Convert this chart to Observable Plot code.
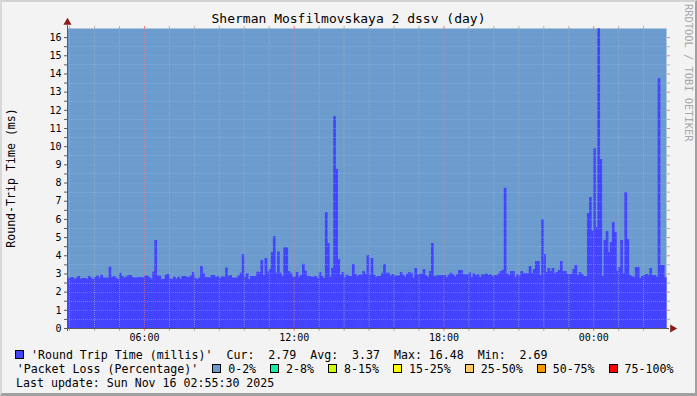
<!DOCTYPE html>
<html><head><meta charset="utf-8">
<script src="https://cdn.jsdelivr.net/npm/d3@7"></script>
<script src="https://cdn.jsdelivr.net/npm/@observablehq/plot@0.6"></script>
<style>
html,body{margin:0;padding:0;background:#f3f3f3;}
#wrap{position:relative;width:697px;height:396px;background:#f3f3f3;overflow:hidden;font-family:"DejaVu Sans Mono",monospace;color:#000;}
#border{position:absolute;left:0;top:0;width:697px;height:396px;box-sizing:border-box;border-top:2px solid #d2d2d2;border-left:2px solid #d8d8d8;border-right:2px solid #a0a0a0;border-bottom:3px solid #a0a0a0;pointer-events:none;}
#title{position:absolute;left:0;top:11px;width:697px;text-align:center;font-size:13px;line-height:15px;white-space:pre;}
#chart{position:absolute;left:0;top:0;}
#ylabel{position:absolute;left:11px;top:178px;transform:translate(-50%,-50%) rotate(-90deg);font-size:11.6px;white-space:pre;}
#wm{position:absolute;left:683px;top:4px;writing-mode:vertical-rl;font-size:10.4px;color:#a8a8a8;white-space:pre;}
#legend{position:absolute;left:0;top:348px;font-size:11.6px;line-height:14px;white-space:pre;}
.row{height:14px;}
.sq{display:inline-block;width:9px;height:9px;box-sizing:border-box;border:1px solid #000;}
</style></head>
<body>
<div id="wrap">
  <div id="chart"></div>
  <div id="title"></div>
  <div id="ylabel"></div>
  <div id="wm"></div>
  <div id="legend"></div>
  <div id="border"></div>
</div>
<script>
// ---- data (5-minute RTT samples, 02:55 Nov 15 -> 02:55 Nov 16), one row per hour ----
const rtt = [
  2.75,2.78,2.80,2.69,2.77,2.86,2.71,2.75,2.75,2.71,2.86,2.77,
  2.69,2.80,2.88,2.77,2.93,2.77,2.77,2.77,3.37,2.80,2.86,2.77,
  2.69,3.04,2.86,2.77,2.84,2.91,2.91,2.80,2.77,2.79,2.79,2.80,
  2.77,2.88,2.88,2.79,2.71,3.10,4.84,2.88,2.88,2.69,2.71,2.93,
  2.98,2.71,2.71,2.82,2.71,2.82,2.71,2.86,2.86,2.82,2.80,2.88,
  3.08,2.77,2.69,2.77,3.40,3.02,2.80,2.80,2.77,2.91,2.91,2.79,
  2.86,2.75,2.84,2.82,3.33,2.86,2.91,2.77,2.77,2.77,2.89,3.04,
  4.07,2.82,3.02,2.69,2.86,2.86,2.86,3.10,3.08,3.74,2.91,3.85,
  3.10,3.24,4.18,5.05,3.04,4.21,3.04,2.86,4.43,4.43,3.13,3.04,
  2.82,2.82,3.08,2.82,2.91,3.53,3.15,2.86,2.86,2.82,2.82,2.86,
  2.75,3.08,2.86,2.75,6.37,4.67,2.82,3.31,11.65,8.75,3.79,2.93,
  3.08,2.79,2.93,2.86,2.86,3.52,2.97,2.86,2.93,2.93,3.13,2.97,
  4.01,2.93,3.85,2.93,2.82,2.86,2.86,3.04,3.52,3.04,3.04,2.88,
  2.97,2.88,2.88,2.88,3.08,2.93,2.82,2.99,3.08,3.03,2.77,3.30,
  2.93,2.97,2.99,3.24,2.90,2.82,3.13,4.67,2.86,2.88,2.91,2.90,
  2.91,2.91,2.80,2.93,3.04,2.95,2.84,2.95,3.19,3.19,2.95,2.95,
  2.95,3.06,2.80,3.00,2.91,2.95,2.80,2.95,2.95,3.00,2.91,2.95,
  2.86,2.91,2.90,3.00,3.13,3.19,7.71,2.99,2.90,3.13,3.13,2.80,
  2.95,2.88,3.13,3.02,3.02,3.02,3.41,3.02,3.24,3.68,3.68,2.91,
  5.99,4.07,3.08,3.30,3.13,3.30,3.02,3.08,3.19,3.68,3.13,3.13,
  2.97,2.97,2.97,3.24,3.46,2.91,3.08,2.97,2.86,2.86,6.32,7.20,
  5.35,9.89,5.55,16.48,9.29,2.86,4.84,5.33,4.18,4.73,5.82,5.27,
  3.13,3.35,4.84,3.02,7.47,4.89,2.91,2.86,2.80,3.35,3.35,2.75,
  2.86,2.91,2.97,2.91,3.30,2.91,2.91,2.82,13.74,3.46,3.46,2.79
];
const startTime = Date.UTC(2025, 10, 15, 2, 55);
const stepMs = 5 * 60 * 1000;

const yMajorTicks = [1,2,3,4,5,6,7,8,9,10,11,12,13,14,15,16];
const xLabelTicks = ["06:00","12:00","18:00","00:00"];

const titleText = "Sherman Mosfilmovskaya 2 dssv (day)";
const yTitle = "Round-Trip Time (ms)";
const watermark = "RRDTOOL / TOBI OETIKER";
const rttLabel = "'Round Trip Time (millis)'";
const statNames = ["Cur:", "Avg:", "Max:", "Min:"];
const statValues = ["2.79", "3.37", "16.48", "2.69"];
const lossTitle = "'Packet Loss (Percentage)'";
const lossLabels = ["0-2%","2-8%","8-15%","15-25%","25-50%","50-75%","75-100%"];
const lossColors = ["#6c9bcd","#11f0a4","#ccff00","#ffff00","#ffcc66","#ff9900","#ff0000"];
const lastUpdate = "Last update: Sun Nov 16 02:55:30 2025";

const rttColor = "#4444ff";
const gridMinor = "#b4b4b4";
const gridMajor = "#ff7a7a";
const axisColor = "#5a5a5a";
const arrowColor = "#8b1a1a";

// ---- build ----
const data = rtt.map((v, i) => ({t1: new Date(startTime + i*stepMs), t2: new Date(startTime + (i+1)*stepMs), v}));
const endTime = startTime + rtt.length * stepMs;
const hours = d3.utcHour.range(new Date(startTime), new Date(endTime));
const fmt = d3.utcFormat("%H:%M");
const hourMajor = hours.filter(d => xLabelTicks.includes(fmt(d)));
const hourMinor = hours.filter(d => !xLabelTicks.includes(fmt(d)));
const yMinorTicks = yMajorTicks.map(d => d - 0.5);
const yAllTicks = d3.range(0, 16.01, 0.5);

const chart = Plot.plot({
  width: 697, height: 350,
  marginLeft: 67, marginRight: 31, marginTop: 28, marginBottom: 22,
  x: {type: "utc", domain: [new Date(startTime), new Date(endTime)]},
  y: {domain: [0, 16.5]},
  style: {background: "transparent", fontFamily: "'DejaVu Sans Mono', monospace", fontSize: "10px", color: "#000", overflow: "visible"},
  marks: [
    Plot.frame({fill: lossColors[0], stroke: null}),
    Plot.rect(data, {x1: "t1", x2: "t2", y1: 0, y2: "v", fill: rttColor, insetRight: -0.6}),
    Plot.ruleY(yMinorTicks, {stroke: gridMinor, strokeOpacity: 0.5, strokeDasharray: "1,1", shapeRendering: "crispEdges"}),
    Plot.ruleX(hourMinor, {stroke: gridMinor, strokeOpacity: 0.6, strokeDasharray: "1,1"}),
    Plot.ruleY(yMajorTicks, {stroke: gridMajor, strokeOpacity: 0.5, strokeDasharray: "1,1", shapeRendering: "crispEdges"}),
    Plot.ruleX(hourMajor, {stroke: gridMajor, strokeOpacity: 0.6, strokeDasharray: "1,1"}),
    // outside tick stubs
    Plot.axisX(hourMinor, {anchor: "top", tickSize: 3, tickFormat: () => "", stroke: gridMinor, label: null}),
    Plot.axisX(hourMajor, {anchor: "top", tickSize: 3, tickFormat: () => "", stroke: gridMajor, label: null}),
    Plot.axisY(yMinorTicks, {anchor: "right", tickSize: 3, tickFormat: () => "", stroke: gridMinor, label: null}),
    Plot.axisY(yMajorTicks, {anchor: "right", tickSize: 3, tickFormat: () => "", stroke: gridMajor, label: null}),
    Plot.axisX(hourMinor, {anchor: "bottom", tickSize: 3, tickFormat: () => "", stroke: gridMinor, label: null}),
    Plot.axisX(hourMajor, {anchor: "bottom", tickSize: 3, tickPadding: 2, tickFormat: fmt, stroke: gridMajor, fill: "#000", label: null}),
    Plot.axisY(yAllTicks, {anchor: "left", tickSize: 3, tickPadding: 3, tickFormat: d => Number.isInteger(d) ? String(d) : "", stroke: axisColor, fill: "#000", label: null}),
    // axis lines
    Plot.ruleX([new Date(startTime)], {stroke: axisColor, insetTop: -3, insetBottom: -3}),
    Plot.ruleY([0], {stroke: axisColor, insetLeft: -3, insetRight: -3}),
    // arrows
    Plot.dot([new Date(startTime)], {x: d => d, frameAnchor: "top", dy: -6, symbol: "triangle", r: 3, fill: arrowColor, stroke: null}),
    Plot.dot([new Date(endTime)], {x: d => d, y: () => 0, dx: 6, symbol: "triangle", rotate: 90, r: 3, fill: arrowColor, stroke: null})
  ]
});
document.getElementById("chart").appendChild(chart);

document.getElementById("title").textContent = titleText;
document.getElementById("ylabel").textContent = yTitle;
document.getElementById("wm").textContent = watermark;

const legend = document.getElementById("legend");
const mkSq = (color, ml) => {
  const s = document.createElement("span");
  s.className = "sq"; s.style.background = color; s.style.marginLeft = ml + "px";
  return s;
};
const row1 = document.createElement("div"); row1.className = "row"; row1.style.paddingLeft = "15px";
row1.appendChild(mkSq(rttColor, 0));
const r1t = document.createElement("span"); r1t.style.marginLeft = "7px";
r1t.textContent = rttLabel + "  " + statNames.map((n, i) => n + statValues[i].padStart(6)).join("  ");
row1.appendChild(r1t);
legend.appendChild(row1);

const row2 = document.createElement("div"); row2.className = "row"; row2.style.paddingLeft = "16.7px";
const r2t = document.createElement("span"); r2t.textContent = lossTitle; row2.appendChild(r2t);
lossLabels.forEach((lab, i) => {
  row2.appendChild(mkSq(lossColors[i], 14));
  const t = document.createElement("span"); t.style.marginLeft = "7px"; t.textContent = lab;
  row2.appendChild(t);
});
legend.appendChild(row2);

const row3 = document.createElement("div"); row3.className = "row"; row3.style.paddingLeft = "16px";
row3.textContent = lastUpdate;
legend.appendChild(row3);
</script>
</body></html>
